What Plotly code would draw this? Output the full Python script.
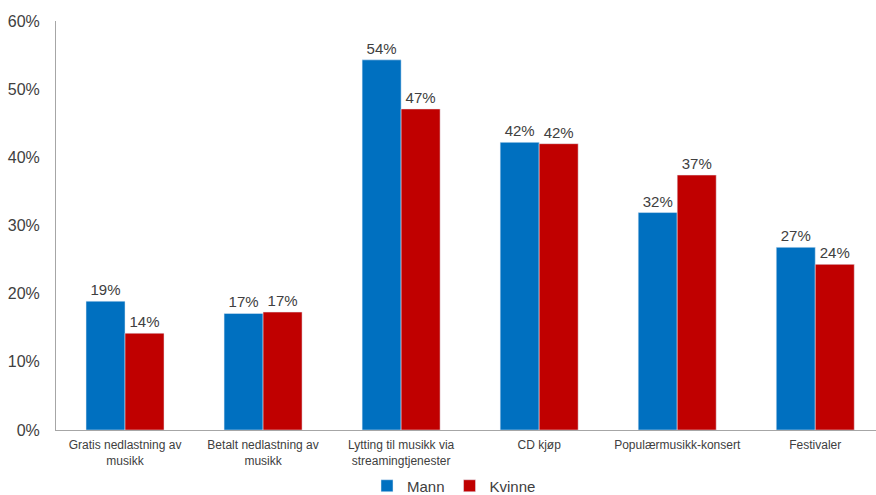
import plotly.graph_objects as go

categories = ["Gratis nedlastning av<br>musikk", "Betalt nedlastning av<br>musikk",
              "Lytting til musikk via<br>streamingtjenester", "CD kjøp",
              "Populærmusikk-konsert", "Festivaler"]
mann = [18.9, 17.1, 54.3, 42.2, 31.9, 26.8]
kvinne = [14.2, 17.3, 47.1, 42.0, 37.4, 24.3]
y_ticks = [0, 10, 20, 30, 40, 50, 60]

fig = go.Figure()
fig.add_trace(go.Bar(name="Mann", x=categories, y=mann, marker_color="#0070C0",
                     texttemplate="%{y:.0f}%", textposition="outside",
                     textfont=dict(size=15, color="#404040"), cliponaxis=False))
fig.add_trace(go.Bar(name="Kvinne", x=categories, y=kvinne, marker_color="#C00000",
                     texttemplate="%{y:.0f}%", textposition="outside",
                     textfont=dict(size=15, color="#404040"), cliponaxis=False))

H = 495
fig.update_layout(
    width=876, height=H,
    margin=dict(l=56, r=0, t=21, b=65),
    plot_bgcolor="white", paper_bgcolor="white",
    barmode="group", bargap=0.435, bargroupgap=0,
    font=dict(family="Liberation Sans, Arial", color="#404040"),
    showlegend=True,
    legend=dict(orientation="h", xref="container", yref="container",
                x=454 / 876, xanchor="center", y=(H - 486) / H, yanchor="middle",
                font=dict(size=15, color="#404040"), itemwidth=30),
    xaxis=dict(range=[-0.5, 5.44], showline=True, linecolor="#A6A6A6", linewidth=1,
               ticks="", tickfont=dict(size=12, color="#404040"), showgrid=False,
               ticklabelstandoff=4, automargin=False),
    yaxis=dict(range=[0, 60], tickvals=y_ticks, ticktext=[f"{v}%" for v in y_ticks],
               showline=True, linecolor="#A6A6A6", linewidth=1, showgrid=False,
               zeroline=False, ticks="", tickfont=dict(size=16, color="#404040"),
               ticklabelstandoff=12, automargin=False),
)
fig.write_html("out.html")
